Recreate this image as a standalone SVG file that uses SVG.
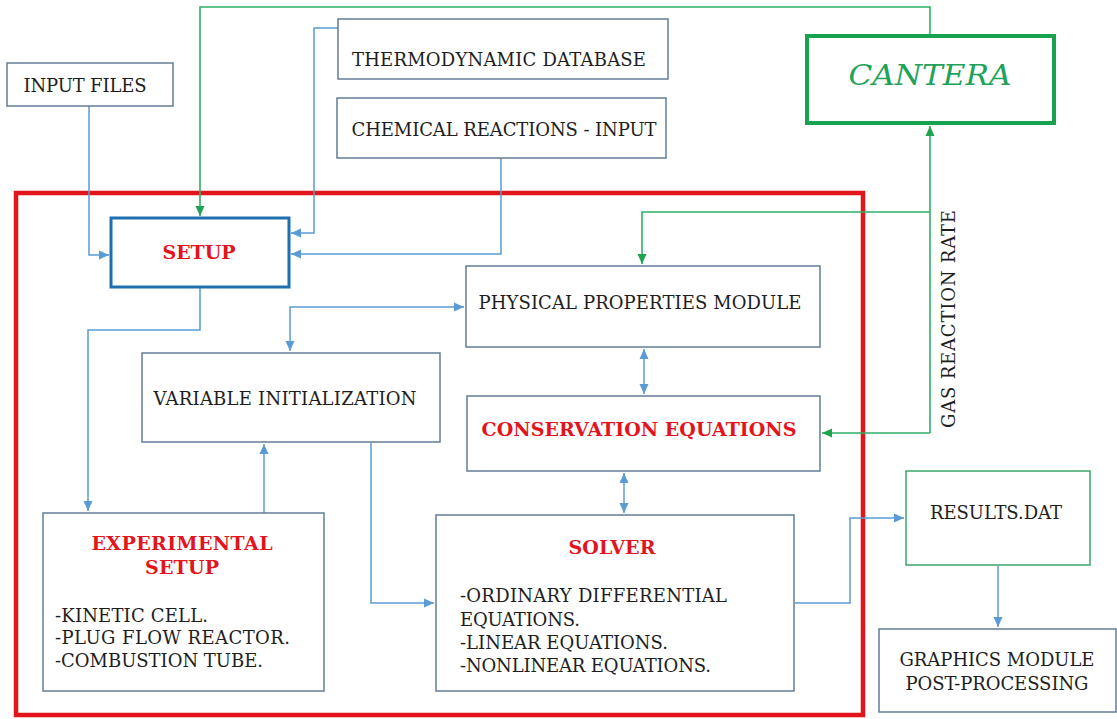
<svg xmlns="http://www.w3.org/2000/svg" width="1117" height="719" viewBox="0 0 1117 719">
<defs>
<marker id="ab" markerUnits="userSpaceOnUse" markerWidth="10" markerHeight="10" viewBox="0 0 10 10" refX="10" refY="5" orient="auto-start-reverse">
<path d="M0,0.5 L10,5 L0,9.5 Z" fill="#5b9bd5"/>
</marker>
<marker id="ag" markerUnits="userSpaceOnUse" markerWidth="10" markerHeight="10" viewBox="0 0 10 10" refX="10" refY="5" orient="auto-start-reverse">
<path d="M0,0.5 L10,5 L0,9.5 Z" fill="#1fa350"/>
</marker>
</defs>
<style>
.box{fill:#fff;stroke:#647d96;stroke-width:1.5}
.t{font-family:"DejaVu Serif","Liberation Serif",serif;font-size:18px;fill:#1e1e1e}
.b{font-family:"DejaVu Serif","Liberation Serif",serif;font-size:19px;font-weight:bold;fill:#e3141c}
.c{text-anchor:middle}
.cb{fill:none;stroke:#5b9bd5;stroke-width:1.5}
.cg{fill:none;stroke:#2fae66;stroke-width:1.6}
</style>
<rect width="1117" height="719" fill="#ffffff"/>

<g id="system-boundary">
<rect x="16" y="193" width="847" height="522" fill="none" stroke="#e3141c" stroke-width="4.5"/>
</g>

<g id="connectors">
<path class="cb" d="M89 106 V255 H109" marker-end="url(#ab)"/>
<path class="cb" d="M338 28 H314 V233 H291" marker-end="url(#ab)"/>
<path class="cb" d="M501 158 V254 H291" marker-end="url(#ab)"/>
<path class="cb" d="M200 288 V330 H88 V511" marker-end="url(#ab)"/>
<path class="cb" d="M290 351 V307 H464" marker-start="url(#ab)" marker-end="url(#ab)"/>
<path class="cb" d="M264 513 V444" marker-end="url(#ab)"/>
<path class="cb" d="M371 443 V603 H434" marker-end="url(#ab)"/>
<path class="cb" d="M644 349 V394" marker-start="url(#ab)" marker-end="url(#ab)"/>
<path class="cb" d="M624 473 V513" marker-start="url(#ab)" marker-end="url(#ab)"/>
<path class="cb" d="M795 603 H850 V518 H904" marker-end="url(#ab)"/>
<path class="cb" d="M998 566 V627" marker-end="url(#ab)"/>
<path class="cg" d="M930 34 V7 H200 V216" marker-end="url(#ag)"/>
<path class="cg" d="M930 433 V126" marker-end="url(#ag)"/>
<path class="cg" d="M930 212 H642 V264" marker-end="url(#ag)"/>
<path class="cg" d="M930 433 H822" marker-end="url(#ag)"/>
<text class="t c" transform="translate(955,319) rotate(-90)" textLength="218">GAS REACTION RATE</text>
</g>

<g id="input-files">
<rect class="box" x="7" y="63" width="166" height="43"/>
<text class="t c" x="85" y="92" textLength="123">INPUT FILES</text>
</g>

<g id="thermodynamic-database">
<rect class="box" x="338" y="19" width="330" height="60"/>
<text class="t c" x="499" y="66" textLength="294">THERMODYNAMIC DATABASE</text>
</g>

<g id="chemical-reactions">
<rect class="box" x="337" y="98" width="329" height="60"/>
<text class="t c" x="504" y="136" textLength="305">CHEMICAL REACTIONS - INPUT</text>
</g>

<g id="cantera">
<rect x="807" y="36" width="247" height="87" fill="#fff" stroke="#17a24f" stroke-width="4"/>
<text class="c" x="930" y="85" textLength="163" lengthAdjust="spacingAndGlyphs" style="font-family:'DejaVu Serif','Liberation Serif',serif;font-size:28px;font-style:italic;fill:#1fa35a">CANTERA</text>
</g>

<g id="setup">
<rect x="111" y="218" width="178" height="69" fill="#fff" stroke="#1f6fb0" stroke-width="3"/>
<text class="b c" x="199" y="259" textLength="73">SETUP</text>
</g>

<g id="physical-properties">
<rect class="box" x="466" y="266" width="354" height="81"/>
<text class="t c" x="640" y="309" textLength="323">PHYSICAL PROPERTIES MODULE</text>
</g>

<g id="variable-initialization">
<rect class="box" x="142" y="353" width="298" height="89"/>
<text class="t c" x="285" y="405" textLength="263">VARIABLE INITIALIZATION</text>
</g>

<g id="conservation-equations">
<rect class="box" x="467" y="396" width="353" height="75"/>
<text class="b c" x="639" y="436" textLength="315">CONSERVATION EQUATIONS</text>
</g>

<g id="experimental-setup">
<rect class="box" x="43" y="513" width="281" height="178"/>
<text class="b c" x="182" y="550" textLength="181">EXPERIMENTAL</text>
<text class="b c" x="182" y="574" textLength="74">SETUP</text>
<text class="t" x="55" y="622" textLength="153">-KINETIC CELL.</text>
<text class="t" x="55" y="644" textLength="235">-PLUG FLOW REACTOR.</text>
<text class="t" x="55" y="667" textLength="208">-COMBUSTION TUBE.</text>
</g>

<g id="solver">
<rect class="box" x="436" y="515" width="358" height="176"/>
<text class="b c" x="612" y="554" textLength="87">SOLVER</text>
<text class="t" x="460" y="602" textLength="267">-ORDINARY DIFFERENTIAL</text>
<text class="t" x="460" y="626" textLength="120">EQUATIONS.</text>
<text class="t" x="460" y="649" textLength="208">-LINEAR EQUATIONS.</text>
<text class="t" x="460" y="672" textLength="251">-NONLINEAR EQUATIONS.</text>
</g>

<g id="results">
<rect x="906" y="471" width="184" height="94" fill="#fff" stroke="#3aa66a" stroke-width="1.5"/>
<text class="t c" x="996" y="519" textLength="132">RESULTS.DAT</text>
</g>

<g id="graphics-module">
<rect class="box" x="879" y="629" width="237" height="83"/>
<text class="t c" x="997" y="666" textLength="195">GRAPHICS MODULE</text>
<text class="t c" x="997" y="690" textLength="183">POST-PROCESSING</text>
</g>
</svg>
